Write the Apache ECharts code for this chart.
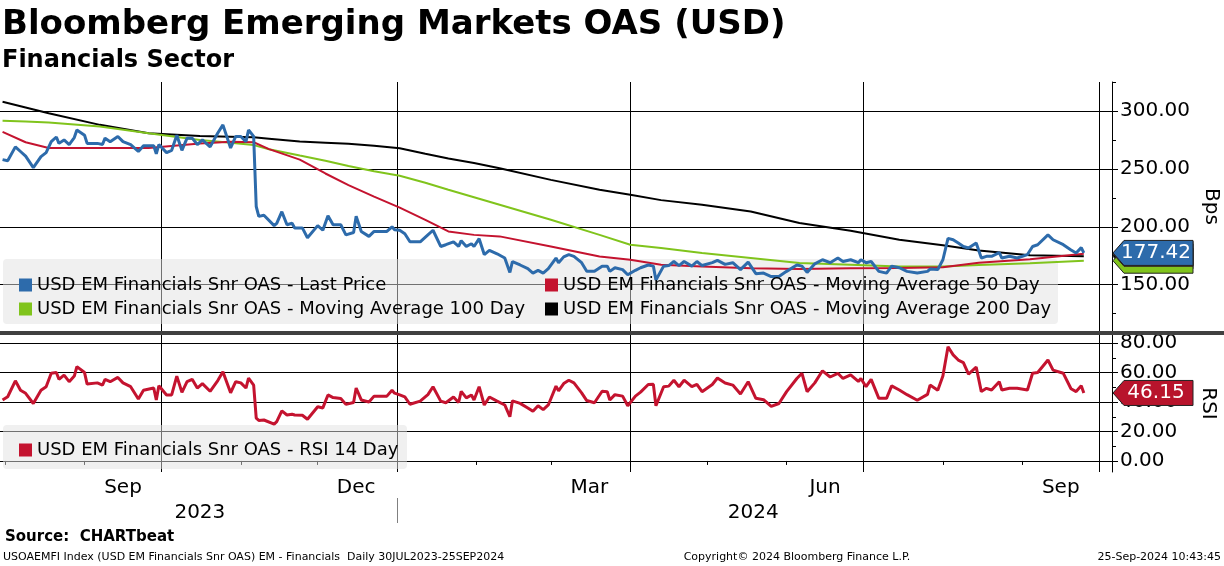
<!DOCTYPE html>
<html>
<head>
<meta charset="utf-8">
<script src="https://cdn.jsdelivr.net/npm/echarts@6/dist/echarts.min.js"></script>
<style>
  html, body { margin: 0; padding: 0; background: #fff; }
  #chart { width: 1224px; height: 566px; }
</style>
</head>
<body>
<div id="chart"></div>
<script>
// daily readings of the index (last price) and its 14 day RSI
const dates = [
  '2023-07-31','2023-08-02','2023-08-05','2023-08-07','2023-08-09','2023-08-12','2023-08-15','2023-08-17','2023-08-19','2023-08-21',
  '2023-08-22','2023-08-24','2023-08-26','2023-08-28','2023-08-29','2023-09-01','2023-09-02','2023-09-06','2023-09-08','2023-09-09',
  '2023-09-11','2023-09-14','2023-09-16','2023-09-19','2023-09-22','2023-09-24','2023-09-28','2023-09-29','2023-09-30','2023-10-03',
  '2023-10-05','2023-10-07','2023-10-09','2023-10-11','2023-10-13','2023-10-15','2023-10-17','2023-10-20','2023-10-23','2023-10-25',
  '2023-10-28','2023-10-30','2023-11-01','2023-11-03','2023-11-04','2023-11-06','2023-11-07','2023-11-08','2023-11-10','2023-11-14',
  '2023-11-15','2023-11-17','2023-11-19','2023-11-21','2023-11-22','2023-11-25','2023-11-27','2023-12-01','2023-12-03','2023-12-05',
  '2023-12-07','2023-12-10','2023-12-12','2023-12-15','2023-12-16','2023-12-18','2023-12-21','2023-12-23','2023-12-28','2023-12-30',
  '2023-12-31','2024-01-02','2024-01-04','2024-01-06','2024-01-10','2024-01-13','2024-01-15','2024-01-18','2024-01-20','2024-01-23',
  '2024-01-25','2024-01-26','2024-01-28','2024-01-30','2024-01-31','2024-02-02','2024-02-04','2024-02-06','2024-02-09','2024-02-12',
  '2024-02-14','2024-02-15','2024-02-18','2024-02-21','2024-02-23','2024-02-25','2024-02-27','2024-02-29','2024-03-03','2024-03-04',
  '2024-03-06','2024-03-08','2024-03-10','2024-03-13','2024-03-15','2024-03-18','2024-03-21','2024-03-23','2024-03-24','2024-03-26',
  '2024-03-29','2024-03-31','2024-04-03','2024-04-05','2024-04-08','2024-04-10','2024-04-11','2024-04-14','2024-04-16','2024-04-18',
  '2024-04-20','2024-04-22','2024-04-25','2024-04-27','2024-04-29','2024-05-03','2024-05-05','2024-05-08','2024-05-11','2024-05-14',
  '2024-05-17','2024-05-20','2024-05-23','2024-05-26','2024-05-29','2024-06-01','2024-06-05','2024-06-07','2024-06-09','2024-06-12',
  '2024-06-15','2024-06-18','2024-06-21','2024-06-23','2024-06-26','2024-06-29','2024-06-30','2024-07-02','2024-07-04','2024-07-07',
  '2024-07-10','2024-07-12','2024-07-15','2024-07-18','2024-07-22','2024-07-26','2024-07-27','2024-07-30','2024-08-01','2024-08-03',
  '2024-08-05','2024-08-07','2024-08-09','2024-08-11','2024-08-14','2024-08-16','2024-08-18','2024-08-20','2024-08-23','2024-08-24',
  '2024-08-27','2024-08-30','2024-09-03','2024-09-05','2024-09-07','2024-09-11','2024-09-13','2024-09-17','2024-09-20','2024-09-22',
  '2024-09-24','2024-09-25'
];
const lastPrice = [
  258, 257, 269, 265, 261, 251, 260.6, 264, 273.5, 277.5,
  272, 275, 271, 277, 283.6, 279, 272, 272, 271, 276.5,
  273.5, 278, 273.5, 271, 265, 270, 270, 263, 271, 264,
  266, 279, 266, 276.5, 276.5, 271, 275, 269, 281, 288,
  268, 278, 278, 273.5, 283.6, 278, 217.5, 209, 210, 201,
  203, 213, 201.7, 203, 199, 199, 190.5, 201, 197, 209.5,
  201.7, 201.7, 193, 195, 209, 196, 191.7, 196, 196, 200,
  197.4, 197, 194, 187, 187, 193, 197, 183, 184.5, 187,
  183, 188, 183, 185.3, 183, 189.7, 176, 179.6, 176.7, 173,
  160.6, 170, 167, 163.8, 160, 162.4, 160, 163.8, 173, 169,
  174, 176, 174.5, 169, 161.5, 161.5, 166, 166, 161.5, 164.6,
  163, 158.6, 162.4, 164.6, 167, 166, 154, 166, 166.5, 170,
  166.5, 170, 166, 170, 166.5, 169, 171, 167.5, 169, 163,
  169.5, 159.5, 160, 157, 157, 161.5, 167, 166, 160.6, 168,
  171.5, 169, 173, 170, 171.5, 169, 171.5, 169, 170, 161.5,
  160, 166, 164.6, 161.5, 160, 161.5, 163.5, 163, 171.5, 190,
  188.8, 186, 183, 181.7, 186, 173, 174.5, 174.5, 177.6, 173,
  174.5, 173, 176, 183, 184.5, 193, 188.8, 184.5, 180, 177.3,
  182, 177.42
];
const rsi14 = [
  41.4, 43.6, 54.4, 48, 45.9, 39, 48, 50.4, 59.5, 60,
  55.4, 58.3, 53.8, 57.6, 64, 60, 52.2, 53, 51.5, 55.4,
  53.8, 56.7, 53, 50.4, 42, 48, 49.5, 41.4, 51, 44.8,
  44.8, 57.6, 46.6, 53.8, 55.4, 49.5, 52.5, 47.3, 54.6, 60.6,
  46.3, 53.8, 53, 49.5, 56.2, 51.5, 29, 27.5, 27.8, 25,
  26.7, 34, 31.2, 31.7, 31.2, 31, 28.3, 36.8, 36, 44.8,
  43, 42.4, 38.4, 39.7, 49.5, 41.4, 40, 44, 44, 48,
  46, 44.8, 43.5, 38.5, 40.6, 45, 50.4, 40.6, 39.5, 43.4,
  39.7, 47.2, 42.8, 44.8, 41.4, 50.4, 38, 43.4, 40.6, 38,
  30, 40.8, 39.1, 36, 33.7, 37.5, 34.8, 38, 50.8, 47.6,
  52.5, 54.8, 53, 46.2, 41, 39.5, 47.3, 47, 41.4, 45,
  44, 37.5, 44, 46.7, 51.9, 52, 37.5, 50.4, 50.8, 54.8,
  50.4, 54.8, 50.4, 52, 47, 51.9, 56.3, 52.9, 51.5, 45.5,
  53.8, 42.5, 41.6, 37, 39, 47.1, 56, 59.5, 47, 53,
  61.2, 57, 59.5, 56, 58.5, 54, 56, 50.4, 55.4, 42.5,
  42.5, 51, 48.2, 45, 41.2, 45.2, 51.5, 48, 57.6, 77.5,
  72, 68.5, 66.8, 59, 63.7, 47.1, 49.3, 48.2, 53.8, 48.2,
  49.3, 49.3, 48.2, 59.5, 60, 68.5, 61.7, 59.5, 49, 47.1,
  51, 46.15
];

// moving averages, read at coarser dates
const maDates = [
  '2023-07-31','2023-08-09','2023-08-18','2023-09-07','2023-09-26','2023-10-16','2023-10-28','2023-11-06','2023-11-12','2023-11-24',
  '2023-12-04','2023-12-13','2023-12-23','2024-01-02','2024-01-12','2024-01-21','2024-01-31','2024-02-10','2024-03-01','2024-03-20',
  '2024-04-01','2024-04-13','2024-04-29','2024-05-18','2024-06-06','2024-06-26','2024-07-15','2024-08-01','2024-08-15','2024-09-04',
  '2024-09-25'
];
const ma50 = [
  282, 273, 268, 268, 268, 272, 273.5, 273, 267, 258,
  246, 236, 226, 216.5, 206, 196, 193, 191.7, 183, 174.4,
  171.5, 167.2, 165.8, 164.2, 163.5, 164.2, 164.4, 165, 169, 172,
  176.7
];
const ma100 = [
  291.6, 291, 290, 286.5, 280.8, 275, 272.5, 270.5, 267, 261.5,
  257, 252.5, 248, 244, 238, 232, 225.5, 219, 206, 193,
  184.5, 181.6, 177.3, 173, 168.7, 167.2, 165.8, 165.8, 167, 168.5,
  170.69
];
const ma200 = [
  308, 303, 298, 288, 280.8, 278.4, 277.8, 277.2, 276, 273.6,
  272.6, 271.6, 270, 267.8, 263, 259, 255, 250.6, 240.5, 232,
  227.6, 223, 219, 213.2, 203.2, 196.5, 188.8, 184, 179.5, 175.5,
  174.5
];

const names = {
  last: 'USD EM Financials Snr OAS - Last Price',
  ma50: 'USD EM Financials Snr OAS - Moving Average 50 Day',
  ma100: 'USD EM Financials Snr OAS - Moving Average 100 Day',
  ma200: 'USD EM Financials Snr OAS - Moving Average 200 Day',
  rsi: 'USD EM Financials Snr OAS - RSI 14 Day'
};

const xMin = '2023-07-30';
const xMax = '2024-10-06';
const monthStarts = [
  '2023-08-01','2023-09-01','2023-10-01','2023-11-01','2023-12-01','2024-01-01','2024-02-01','2024-03-01',
  '2024-04-01','2024-05-01','2024-06-01','2024-07-01','2024-08-01','2024-09-01','2024-10-01'
];
const quarterStarts = ['2023-10-01','2024-01-01','2024-04-01','2024-07-01','2024-10-01'];
const monthLabelAt = ['2023-09-16','2023-12-16','2024-03-16','2024-06-16','2024-09-16'];
const yearLabelAt = ['2023-10-16','2024-05-19'];
const yearBreaks = ['2024-01-01'];
const monthNames = ['Jan','Feb','Mar','Apr','May','Jun','Jul','Aug','Sep','Oct','Nov','Dec'];

const oasTicks = [150, 200, 250, 300];
const oasMinorTicks = [125, 175, 225, 275, 325];
const rsiTicks = [0, 20, 40, 60, 80];
const rsiMinorTicks = [10, 30, 50, 70];

const FONT = 'DejaVu Sans';
const C_BLUE = '#2d6bab';
const C_RED = '#c4132f';
const C_GREEN = '#80c41c';

// dates go onto a plain value axis as UTC milliseconds
const ms = s => Date.parse(s + 'T00:00:00Z');
const pairs = (xs, ys) => xs.map((d, i) => [ms(d), ys[i]]);
const utc = v => new Date(v);

const chart = echarts.init(document.getElementById('chart'));

const hiddenX = (grid, ticks) => ({
  type: 'value', gridIndex: grid, min: ms(xMin), max: ms(xMax), position: 'bottom',
  axisLine: { show: false },
  axisTick: { show: false, customValues: ticks.map(ms) },
  axisLabel: { show: false },
  splitLine: { show: true, lineStyle: { color: '#000', width: 1 } }
});

const minorY = (grid, min, max, ticks) => ({
  type: 'value', gridIndex: grid, position: 'right', min, max,
  axisLine: { show: false },
  axisTick: { show: true, customValues: ticks, length: 4, lineStyle: { color: '#000' } },
  axisLabel: { show: false },
  splitLine: { show: false }
});

const legendText = { fontSize: 18, lineHeight: 18, color: '#000', fontFamily: FONT };

const option = {
  animation: false,
  backgroundColor: '#fff',
  textStyle: { fontFamily: FONT },
  grid: [
    { left: 0, right: 112, top: 82, height: 249, outerBoundsMode: 'none' },
    { left: 0, right: 112, top: 335, height: 137, outerBoundsMode: 'none' }
  ],
  xAxis: [
    hiddenX(0, quarterStarts),
    {
      type: 'value', gridIndex: 1, min: ms(xMin), max: ms(xMax), position: 'bottom',
      axisLine: { show: true, lineStyle: { color: '#000', width: 1 } },
      axisTick: { show: true, customValues: monthStarts.map(ms), length: 4, lineStyle: { color: '#000' } },
      axisLabel: {
        customValues: monthLabelAt.map(ms), margin: 6, fontSize: 20, color: '#000', fontFamily: FONT,
        formatter: v => monthNames[utc(v).getUTCMonth()]
      },
      splitLine: { show: false }
    },
    hiddenX(1, quarterStarts),
    {
      type: 'value', gridIndex: 1, min: ms(xMin), max: ms(xMax), position: 'bottom', offset: 26,
      axisLine: { show: false },
      axisTick: { show: true, customValues: yearBreaks.map(ms), length: 25, lineStyle: { color: '#808080' } },
      axisLabel: {
        customValues: yearLabelAt.map(ms), margin: 5, fontSize: 20, color: '#000', fontFamily: FONT,
        formatter: v => String(utc(v).getUTCFullYear())
      },
      splitLine: { show: false }
    }
  ],
  yAxis: [
    {
      type: 'value', gridIndex: 0, position: 'right', min: 110, max: 325,
      axisLine: { show: true, lineStyle: { color: '#000' } },
      axisTick: { show: true, customValues: oasTicks, length: 6, lineStyle: { color: '#000' } },
      axisLabel: { customValues: oasTicks, margin: 8, fontSize: 20, color: '#000', fontFamily: FONT, formatter: v => v.toFixed(2) },
      splitLine: { show: true, lineStyle: { color: '#000', width: 1 } },
      name: 'Bps', nameLocation: 'middle', nameRotate: -90, nameGap: 86,
      nameTextStyle: { fontSize: 20, color: '#000', fontFamily: FONT }
    },
    minorY(0, 110, 325, oasMinorTicks),
    {
      type: 'value', gridIndex: 1, position: 'right', min: -7.5, max: 85.5,
      axisLine: { show: true, lineStyle: { color: '#000' } },
      axisTick: { show: true, customValues: rsiTicks, length: 6, lineStyle: { color: '#000' } },
      axisLabel: { customValues: rsiTicks, margin: 8, fontSize: 20, color: '#000', fontFamily: FONT, formatter: v => v.toFixed(2) },
      splitLine: { show: true, lineStyle: { color: '#000', width: 1 } },
      name: 'RSI', nameLocation: 'middle', nameRotate: -90, nameGap: 86,
      nameTextStyle: { fontSize: 20, color: '#000', fontFamily: FONT }
    },
    minorY(1, -7.5, 85.5, rsiMinorTicks)
  ],
  legend: [
    {
      data: [names.last, names.ma100], orient: 'vertical', left: 14, top: 271,
      icon: 'rect', itemWidth: 13, itemHeight: 13, itemGap: 6, selectedMode: false, textStyle: legendText
    },
    {
      data: [names.ma50, names.ma200], orient: 'vertical', left: 540, top: 271,
      icon: 'rect', itemWidth: 13, itemHeight: 13, itemGap: 6, selectedMode: false, textStyle: legendText
    },
    {
      data: [names.rsi], orient: 'vertical', left: 14, top: 436,
      icon: 'rect', itemWidth: 13, itemHeight: 13, selectedMode: false, textStyle: legendText
    }
  ],
  series: [
    {
      name: names.ma200, type: 'line', xAxisIndex: 0, yAxisIndex: 0, data: pairs(maDates, ma200),
      showSymbol: false, color: '#000', lineStyle: { width: 2, color: '#000' }
    },
    {
      name: names.ma100, type: 'line', xAxisIndex: 0, yAxisIndex: 0, data: pairs(maDates, ma100),
      showSymbol: false, color: C_GREEN, lineStyle: { width: 2, color: C_GREEN }
    },
    {
      name: names.ma50, type: 'line', xAxisIndex: 0, yAxisIndex: 0, data: pairs(maDates, ma50),
      showSymbol: false, color: C_RED, lineStyle: { width: 2, color: C_RED }
    },
    {
      name: names.last, type: 'line', xAxisIndex: 0, yAxisIndex: 0, data: pairs(dates, lastPrice),
      showSymbol: false, color: C_BLUE, lineStyle: { width: 3, color: C_BLUE }
    },
    {
      name: names.rsi, type: 'line', xAxisIndex: 1, yAxisIndex: 2, data: pairs(dates, rsi14),
      showSymbol: false, color: C_RED, lineStyle: { width: 3, color: C_RED }
    }
  ],
  graphic: [
    { type: 'rect', id: 'legBgTop', z: 3, shape: { x: 3, y: 259, width: 1055, height: 65, r: 4 }, style: { fill: 'rgba(225,225,225,0.5)' } },
    { type: 'rect', id: 'legBgBot', z: 3, shape: { x: 3, y: 425, width: 404, height: 44, r: 4 }, style: { fill: 'rgba(225,225,225,0.5)' } },
    { type: 'rect', id: 'sep', z: 6, shape: { x: 0, y: 331, width: 1224, height: 4 }, style: { fill: '#404040' } },
    { type: 'text', id: 'title', x: 2, y: 25, z: 10, style: { text: 'Bloomberg Emerging Markets OAS (USD)', font: 'bold 34px ' + FONT, fill: '#000', verticalAlign: 'middle', textVerticalAlign: 'middle' } },
    { type: 'text', id: 'sub', x: 2, y: 61, z: 10, style: { text: 'Financials Sector', font: 'bold 24px ' + FONT, fill: '#000', verticalAlign: 'middle', textVerticalAlign: 'middle' } },
    { type: 'text', id: 'src', x: 5, y: 537, z: 10, style: { text: 'Source:  CHARTbeat', font: 'bold 15px ' + FONT, fill: '#000', verticalAlign: 'middle', textVerticalAlign: 'middle' } },
    { type: 'text', id: 'foot1', x: 3, y: 557, z: 10, style: { text: 'USOAEMFI Index (USD EM Financials Snr OAS) EM - Financials  Daily 30JUL2023-25SEP2024', font: '11px ' + FONT, fill: '#000', verticalAlign: 'middle', textVerticalAlign: 'middle' } },
    { type: 'text', id: 'foot2', x: 797, y: 557, z: 10, style: { text: 'Copyright\u00a9 2024 Bloomberg Finance L.P.', font: '11px ' + FONT, fill: '#000', align: 'center', textAlign: 'center', verticalAlign: 'middle', textVerticalAlign: 'middle' } },
    { type: 'text', id: 'foot3', x: 1221, y: 557, z: 10, style: { text: '25-Sep-2024 10:43:45', font: '11px ' + FONT, fill: '#000', align: 'right', textAlign: 'right', verticalAlign: 'middle', textVerticalAlign: 'middle' } }
  ]
};

chart.setOption(option);

// value tags on the right axis, placed through the axis scale
function valueTag(id, value, yAxisIndex, fill, textFill, z) {
  const y = chart.convertToPixel({ yAxisIndex }, value);
  const x0 = 1113, x1 = 1193, h = 12.5;
  return [
    { type: 'polygon', id: id + 'Box', z, shape: { points: [[x0, y], [x0 + 11, y - h], [x1, y - h], [x1, y + h], [x0 + 11, y + h]] }, style: { fill, stroke: '#222', lineWidth: 1 } },
    { type: 'text', id: id + 'Txt', z: z + 0.5, x: 1156, y, style: { text: value.toFixed(2), font: '20px ' + FONT, fill: textFill, align: 'center', textAlign: 'center', verticalAlign: 'middle', textVerticalAlign: 'middle' } }
  ];
}

chart.setOption({
  graphic: [
    ...valueTag('tagMa200', ma200[ma200.length - 1], 0, '#000', '#fff', 11),
    ...valueTag('tagMa100', ma100[ma100.length - 1], 0, C_GREEN, '#000', 12),
    ...valueTag('tagMa50', ma50[ma50.length - 1], 0, C_RED, '#fff', 13),
    ...valueTag('tagLast', lastPrice[lastPrice.length - 1], 0, C_BLUE, '#fff', 14),
    ...valueTag('tagRsi', rsi14[rsi14.length - 1], 2, '#b8142c', '#fff', 14)
  ]
});
</script>
</body>
</html>
